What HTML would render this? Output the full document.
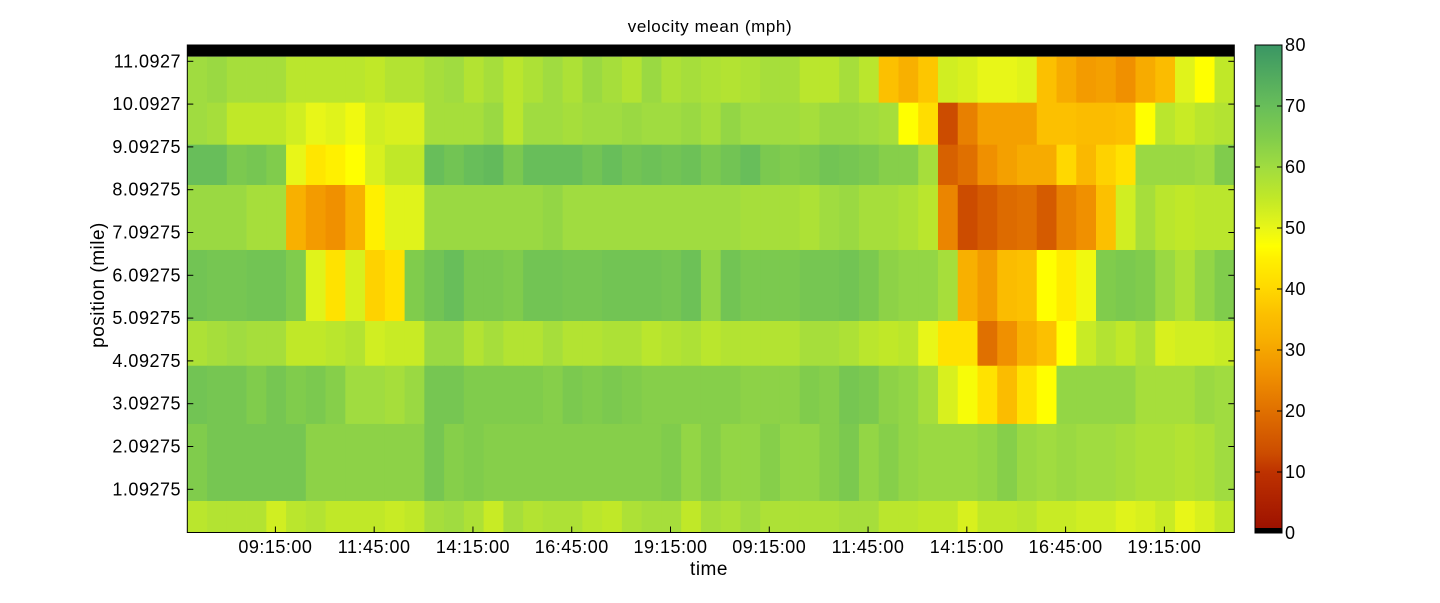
<!DOCTYPE html>
<html><head><meta charset="utf-8">
<style>
html,body{margin:0;padding:0;background:#fff;}
svg text{font-family:"Liberation Sans",Arial,sans-serif;fill:#000;}
</style></head>
<body>
<svg id="chart" width="1440" height="598" xmlns="http://www.w3.org/2000/svg">
<rect width="1440" height="598" fill="#fff"/>
<text x="710" y="32" font-size="17" letter-spacing="0.6" text-anchor="middle">velocity mean (mph)</text>
<g id="cells"></g>
<g id="axes"></g>
<text x="709" y="575" font-size="19" letter-spacing="0.5" text-anchor="middle">time</text>
<text transform="translate(104,285) rotate(-90)" font-size="19" letter-spacing="0.5" text-anchor="middle">position (mile)</text>
<defs><linearGradient id="cbgrad" x1="0" y1="1" x2="0" y2="0"></linearGradient></defs>
<g id="cbar"></g>
</svg>
<script>
// Row edges in miles (top to bottom), row 0 is the black no-data band
const rowEdges = [11.47, 11.20, 10.126, 9.144, 8.203, 6.684, 5.025, 3.98, 2.62, 0.82, 0.10];
const xTickLabels = ["09:15:00","11:45:00","14:15:00","16:45:00","19:15:00","09:15:00","11:45:00","14:15:00","16:45:00","19:15:00"];
const xTickPos = [3.96,8.96,13.96,18.96,23.96,28.96,33.96,38.96,43.96,48.96];
const yTickValues = [11.0927,10.0927,9.09275,8.09275,7.09275,6.09275,5.09275,4.09275,3.09275,2.09275,1.09275];
const yTickLabels = ["11.0927","10.0927","9.09275","8.09275","7.09275","6.09275","5.09275","4.09275","3.09275","2.09275","1.09275"];
const cbTicks = [0,10,20,30,40,50,60,70,80];
const nCols = 53;
const row0 = [60,61,59,59,59,56,56,56,56,55,57,57,59,60,57,59,56,58, 60,58,61,59,57,61,58,59,58,57,58,59,59,56,56,59,56, 36,32,37,53,52,50,50,51,36,31,28,29,26,31,35,51,47,55];
const row1 = [60,59,55,55,55,53,50,51,49,53,52,52,59,59,59,61,56,60, 60,59,60,60,61,60,60,61,59,62,60,60,60,59,61,61,60, 59,47,41,13,23,29,29,29,36,36,35,35,36,47,56,54,56,57];
const row2 = [70,70,66,67,65,50,43,45,47,52,55,55,70,68,70,71,66,70, 70,70,68,70,68,69,68,69,66,68,70,66,65,66,68,67,66, 64,64,59,17,20,26,29,31,31,40,34,39,42,61,61,61,60,65];
const row3 = [61,61,61,59,59,32,28,26,32,45,51,51,61,61,61,61,61,61, 62,60,60,60,60,60,60,60,60,60,59,59,59,58,60,61,59, 59,58,56,24,13,16,19,20,16,23,26,36,53,59,56,55,56,56];
const row4 = [68,67,67,68,68,65,51,42,52,39,42,65,68,70,66,66,65,68, 68,67,67,68,68,68,67,69,62,68,66,66,66,67,67,68,66, 63,62,62,59,32,28,35,36,47,44,49,65,66,65,61,58,62,65];
const row5 = [58,59,60,59,59,55,55,56,57,53,54,54,61,61,57,59,57,57, 59,57,57,58,58,56,57,58,56,57,57,57,57,59,59,58,56, 55,56,50,42,42,20,26,32,36,47,54,57,55,58,52,53,53,54];
const row6 = [68,67,67,65,67,65,66,64,60,60,59,61,67,67,65,65,65,65, 64,66,65,66,65,64,64,64,64,64,63,63,63,65,64,67,66, 63,62,59,52,48,42,35,42,47,62,62,62,62,59,59,59,61,60];
const row7 = [65,67,67,67,67,67,63,63,63,63,63,63,67,64,65,64,64,64, 64,64,64,64,64,64,65,62,64,62,62,64,62,62,64,66,62, 64,62,61,61,61,62,64,61,60,61,60,60,59,58,58,57,58,60];
const row8 = [56,57,57,57,53,56,57,55,55,55,54,55,59,60,58,54,59,57, 58,58,56,55,58,59,59,55,59,58,60,58,58,58,58,59,59, 56,56,55,55,52,55,55,56,54,54,53,53,51,52,54,50,52,55];
const rows = [row0,row1,row2,row3,row4,row5,row6,row7,row8];

const PL=187.3, PR=1234.3, PT=45, PB=532.5;
function xs(i){return PL+(PR-PL)*i/nCols;}
function ys(m){return 61.3+(11.0927-m)*42.8;}
const stops=[[0,[155,15,0]],[10,[190,50,0]],[13,[204,76,0]],[20,[224,112,0]],[26,[240,144,0]],[32,[248,176,0]],[36,[252,192,0]],[40,[255,216,0]],[45,[255,240,0]],[47,[255,255,0]],[50,[232,246,24]],[55,[192,232,40]],[60,[160,220,64]],[65,[128,204,76]],[70,[104,190,90]],[80,[58,150,100]]];
function cmap(v){
  if(v<=0)return "rgb(155,15,0)";
  for(let k=1;k<stops.length;k++){
    if(v<=stops[k][0]){const a=stops[k-1],b=stops[k];const t=(v-a[0])/(b[0]-a[0]);
      const c=a[1].map((x,j)=>Math.round(x+(b[1][j]-x)*t));return "rgb("+c.join(",")+")";}
  }
  return "rgb(58,150,100)";
}
const NS="http://www.w3.org/2000/svg";
function mk(tag,attrs,parent){const e=document.createElementNS(NS,tag);for(const k in attrs)e.setAttribute(k,attrs[k]);parent.appendChild(e);return e;}
const cells=document.getElementById('cells');
const band=mk('rect',{x:PL,y:ys(rowEdges[0]),width:PR-PL,height:ys(rowEdges[1])-ys(rowEdges[0]),fill:'#000'},cells);


rows.forEach((r,ri)=>{
  const y0=ys(rowEdges[ri+1]), y1=ys(rowEdges[ri+2]);
  r.forEach((v,ci)=>{
    const x0=xs(ci), x1=xs(ci+1);
    const c=mk('rect',{x:x0.toFixed(2),y:y0.toFixed(2),width:(x1-x0+0.4).toFixed(2),height:(y1-y0+0.4).toFixed(2),fill:cmap(v)},cells);
    
    
  });
});
const ax=document.getElementById('axes');
mk('rect',{x:PL,y:PT,width:PR-PL,height:PB-PT,fill:'none',stroke:'#000','stroke-width':1},ax);
xTickPos.forEach((p,i)=>{
  const x=xs(p+0.5);
  mk('line',{x1:x,x2:x,y1:PB,y2:PB-6,stroke:'#000'},ax);
  const t=mk('text',{x:x,y:553,'font-size':18,'letter-spacing':0.5,'text-anchor':'middle'},ax);
  t.textContent=xTickLabels[i];
  
  
});
yTickValues.forEach((m,i)=>{
  const y=ys(m);
  mk('line',{x1:PL,x2:PL+6,y1:y,y2:y,stroke:'#000'},ax);
  mk('line',{x1:PR,x2:PR-6,y1:y,y2:y,stroke:'#000'},ax);
  const t=mk('text',{x:181,y:y+6,'font-size':18,'letter-spacing':0.5,'text-anchor':'end'},ax);
  t.textContent=yTickLabels[i];
  
  
});
const g=document.getElementById('cbgrad');
stops.forEach(s=>mk('stop',{offset:(s[0]/80),'stop-color':cmap(s[0]===0?0.001:s[0])},g));
const cb=document.getElementById('cbar');
const CBL=1255,CBR=1282,CBT=45,CBB=533;
function cy(v){return CBB-(CBB-CBT)*v/80;}
mk('rect',{x:CBL,y:CBT,width:CBR-CBL,height:CBB-CBT,fill:'url(#cbgrad)'},cb);
mk('rect',{x:CBL,y:CBB-5,width:CBR-CBL,height:5,fill:'#000'},cb);
mk('rect',{x:CBL,y:CBT,width:CBR-CBL,height:CBB-CBT,fill:'none',stroke:'#000'},cb);
cbTicks.forEach(v=>{
  const y=cy(v);
  mk('line',{x1:CBL,x2:CBL+5,y1:y,y2:y,stroke:'#000'},cb);
  mk('line',{x1:CBR,x2:CBR-5,y1:y,y2:y,stroke:'#000'},cb);
  const t=mk('text',{x:1285,y:y+6,'font-size':18,'letter-spacing':0.5},cb);
  t.textContent=v;
  
  
});
</script>
</body></html>
